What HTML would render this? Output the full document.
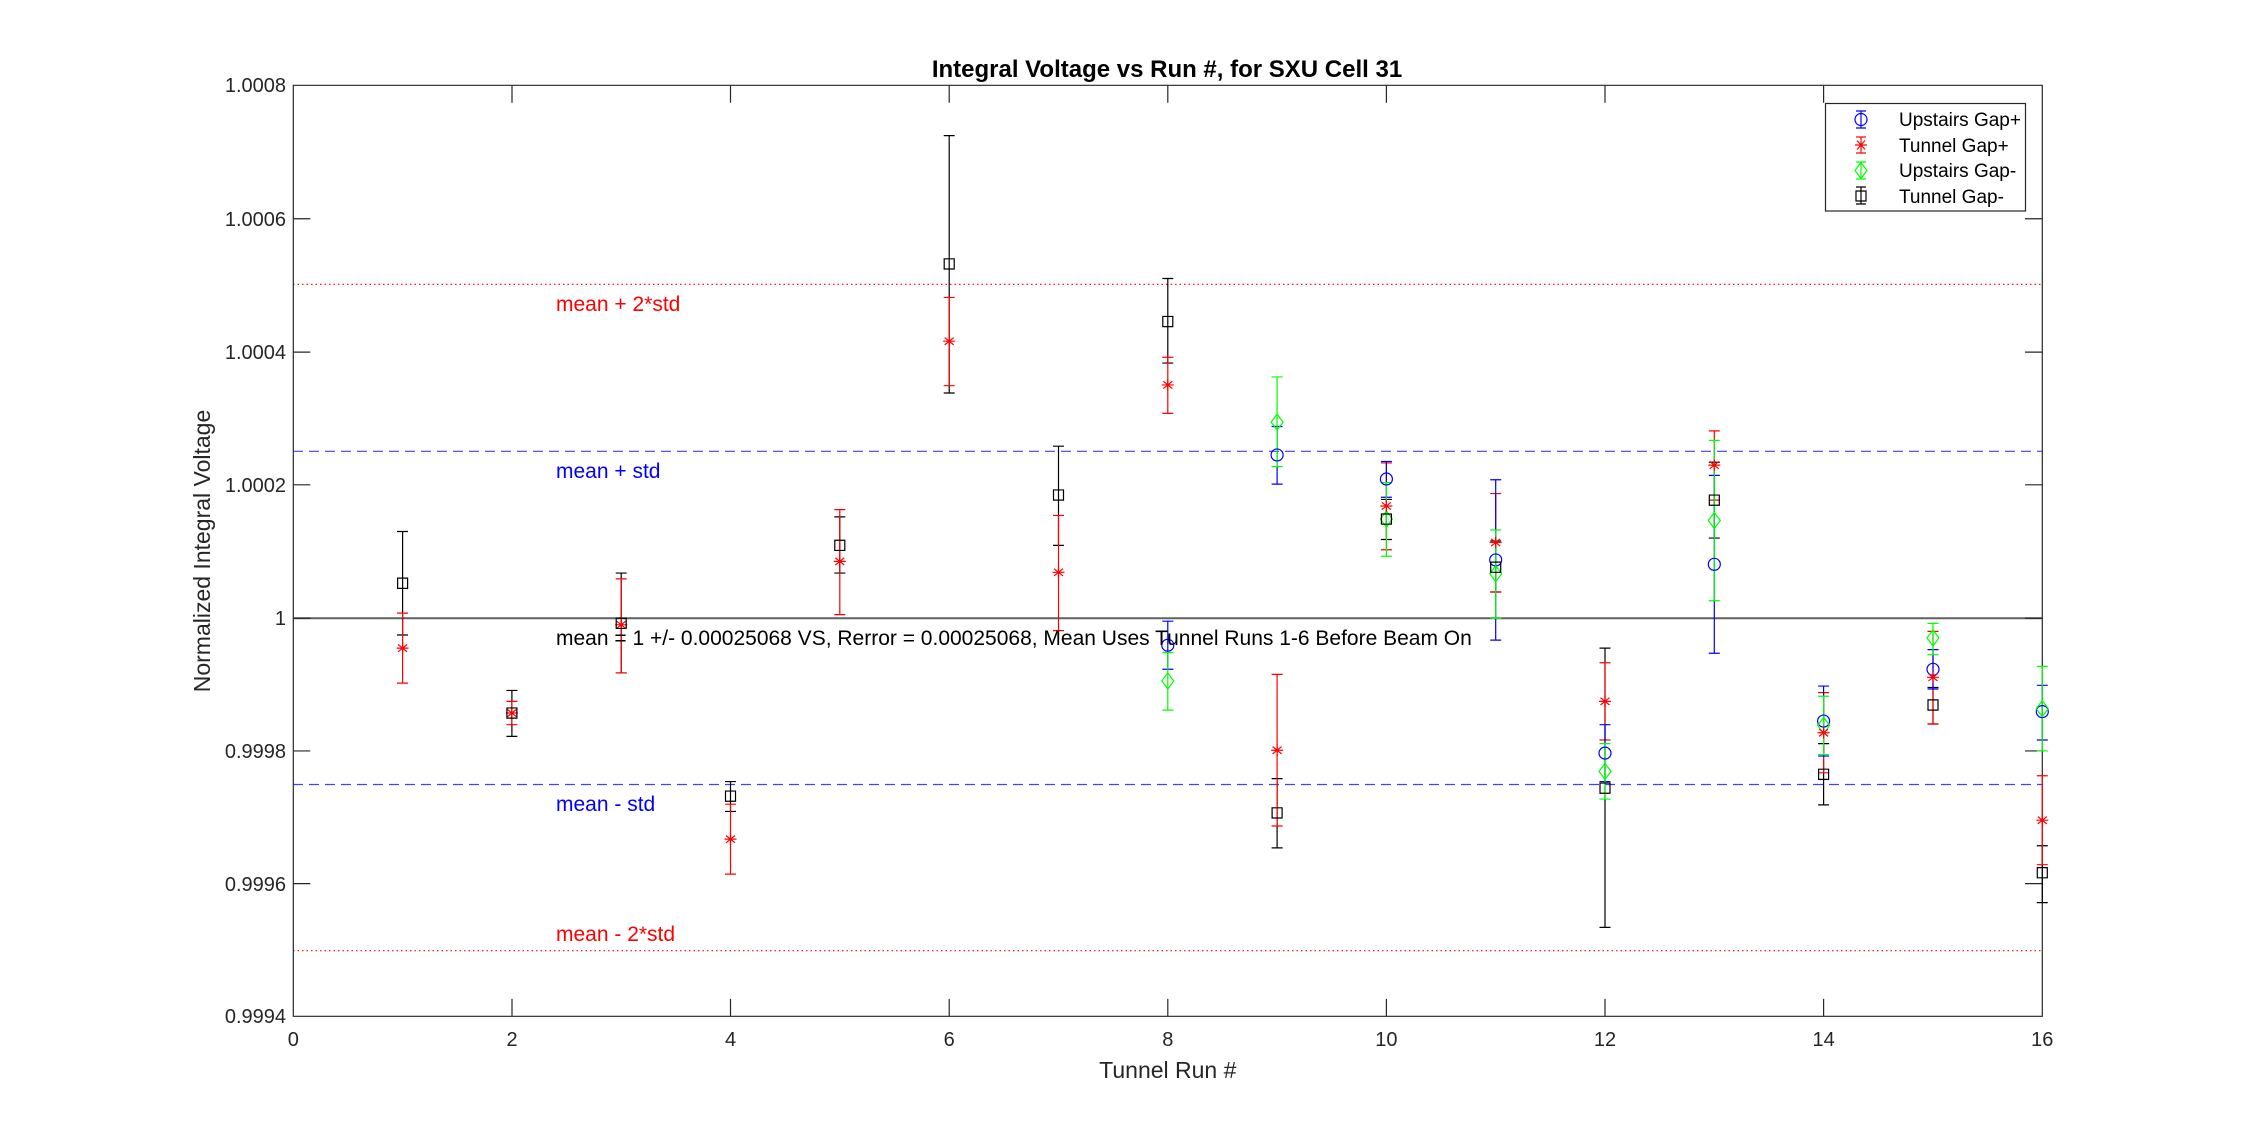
<!DOCTYPE html>
<html><head><meta charset="utf-8"><style>
html,body{margin:0;padding:0;background:#fff;}
svg{display:block;font-family:"Liberation Sans",Arial,sans-serif;}
</style></head><body>
<svg width="2258" height="1143" viewBox="0 0 2258 1143" xmlns="http://www.w3.org/2000/svg">
<rect width="2258" height="1143" fill="#fff"/>
<text x="1167" y="77" font-size="24" font-weight="bold" text-anchor="middle">Integral Voltage vs Run #, for SXU Cell 31</text>
<g transform="scale(1,0.72907)" fill="none" stroke-width="1.2">
<path d="M293 390 H2042" stroke="#ff0000" stroke-dasharray="1.5,3" vector-effect="non-scaling-stroke"/>
<path d="M293 619 H2042" stroke="#4040ff" stroke-dasharray="10,6" vector-effect="non-scaling-stroke"/>
<path d="M293 848 H2042" stroke="#606060" stroke-width="2" vector-effect="non-scaling-stroke"/>
<path d="M293 1076 H2042" stroke="#4040ff" stroke-dasharray="10,6" vector-effect="non-scaling-stroke"/>
<path d="M293 1304 H2042" stroke="#ff0000" stroke-dasharray="1.5,3" vector-effect="non-scaling-stroke"/>
<g stroke="#262626" vector-effect="non-scaling-stroke">
<rect x="293.3" y="117" width="1749" height="1277" vector-effect="non-scaling-stroke"/>
<path vector-effect="non-scaling-stroke" d="M512 1394 v-24 M730.5 1394 v-24 M949.2 1394 v-24 M1167.8 1394 v-24 M1386.4 1394 v-24 M1605 1394 v-24 M1823.6 1394 v-24
M512 117 v24 M730.5 117 v24 M949.2 117 v24 M1167.8 117 v24 M1386.4 117 v24 M1605 117 v24 M1823.6 117 v24
M293.3 300 h17 M293.3 483 h17 M293.3 665 h17 M293.3 848 h17 M293.3 1030 h17 M293.3 1212 h17
M2042 300 h-17 M2042 483 h-17 M2042 665 h-17 M2042 848 h-17 M2042 1030 h-17 M2042 1212 h-17"/>
</g>
<g stroke="#000">
<path vector-effect="non-scaling-stroke" d="
M397 729H408M402.6 729V871M397 871H408
M506.4 947H517.4M511.9 947V1010M506.4 1010H517.4
M615.7 786H626.7M621.2 786V923M615.7 923H626.7
M725 1072H736M730.5 1072V1113M725 1113H736
M834.3 709H845.3M839.8 709V786M834.3 786H845.3
M943.7 186H954.7M949.2 186V539M943.7 539H954.7
M1053 612H1064M1058.5 612V748M1053 748H1064
M1162.3 382H1173.3M1167.8 382V498M1162.3 498H1173.3
M1271.6 1068H1282.6M1277.1 1068V1163M1271.6 1163H1282.6
M1380.9 685H1391.9M1386.4 685V740M1380.9 740H1391.9
M1490.2 742H1501.2M1495.7 742V812M1490.2 812H1501.2
M1599.5 889H1610.5M1605 889V1272M1599.5 1272H1610.5
M1708.8 634H1719.8M1714.3 634V738M1708.8 738H1719.8
M1818.1 1020H1829.1M1823.6 1020V1104M1818.1 1104H1829.1
M1927.5 943H1938.5M1933 943V993M1927.5 993H1938.5
M2036.8 1160H2047.8M2042.3 1160V1238M2036.8 1238H2047.8"/>
</g>
<g stroke="#ff0000">
<path vector-effect="non-scaling-stroke" d="
M397 841H408M402.6 841V937M397 937H408
M506.4 962H517.4M511.9 962V994M506.4 994H517.4
M615.7 794H626.7M621.2 794V923M615.7 923H626.7
M725 1103H736M730.5 1103V1199M725 1199H736
M834.3 699H845.3M839.8 699V843M834.3 843H845.3
M943.7 408H954.7M949.2 408V529M943.7 529H954.7
M1053 707H1064M1058.5 707V865M1053 865H1064
M1162.3 490H1173.3M1167.8 490V567M1162.3 567H1173.3
M1271.6 925H1282.6M1277.1 925V1133M1271.6 1133H1282.6
M1380.9 635H1391.9M1386.4 635V754M1380.9 754H1391.9
M1490.2 677H1501.2M1495.7 677V812M1490.2 812H1501.2
M1599.5 909H1610.5M1605 909V1015M1599.5 1015H1610.5
M1708.8 591H1719.8M1714.3 591V686M1708.8 686H1719.8
M1818.1 950H1829.1M1823.6 950V1060M1818.1 1060H1829.1
M1927.5 866H1938.5M1933 866V993M1927.5 993H1938.5
M2036.8 1064H2047.8M2042.3 1064V1186M2036.8 1186H2047.8"/>
</g>
<g stroke="#0000ff">
<path vector-effect="non-scaling-stroke" d="
M1162.3 852H1173.3M1167.8 852V918M1162.3 918H1173.3
M1271.6 585H1282.6M1277.1 585V664M1271.6 664H1282.6
M1380.9 633H1391.9M1386.4 633V682M1380.9 682H1391.9
M1490.2 658H1501.2M1495.7 658V878M1490.2 878H1501.2
M1599.5 994H1610.5M1605 994V1072M1599.5 1072H1610.5
M1708.8 652H1719.8M1714.3 652V896M1708.8 896H1719.8
M1818.1 941H1829.1M1823.6 941V1037M1818.1 1037H1829.1
M1927.5 891H1938.5M1933 891V945M1927.5 945H1938.5
M2036.8 940H2047.8M2042.3 940V1015M2036.8 1015H2047.8"/>
</g>
<g stroke="#00ff00">
<path vector-effect="non-scaling-stroke" d="
M1162.3 895H1173.3M1167.8 895V974M1162.3 974H1173.3
M1271.6 517H1282.6M1277.1 517V640M1271.6 640H1282.6
M1380.9 662H1391.9M1386.4 662V763M1380.9 763H1391.9
M1490.2 727H1501.2M1495.7 727V848M1490.2 848H1501.2
M1599.5 1020H1610.5M1605 1020V1096M1599.5 1096H1610.5
M1708.8 604H1719.8M1714.3 604V824M1708.8 824H1719.8
M1818.1 955H1829.1M1823.6 955V1035M1818.1 1035H1829.1
M1927.5 855H1938.5M1933 855V898M1927.5 898H1938.5
M2036.8 914H2047.8M2042.3 914V1030M2036.8 1030H2047.8"/>
</g>
<g stroke="#0000ff">
<ellipse vector-effect="non-scaling-stroke" cx="1167.8" cy="885" rx="6" ry="8.2"/>
<ellipse vector-effect="non-scaling-stroke" cx="1277.1" cy="624" rx="6" ry="8.2"/>
<ellipse vector-effect="non-scaling-stroke" cx="1386.4" cy="657" rx="6" ry="8.2"/>
<ellipse vector-effect="non-scaling-stroke" cx="1495.7" cy="768" rx="6" ry="8.2"/>
<ellipse vector-effect="non-scaling-stroke" cx="1605" cy="1033" rx="6" ry="8.2"/>
<ellipse vector-effect="non-scaling-stroke" cx="1714.3" cy="774" rx="6" ry="8.2"/>
<ellipse vector-effect="non-scaling-stroke" cx="1823.6" cy="989" rx="6" ry="8.2"/>
<ellipse vector-effect="non-scaling-stroke" cx="1933" cy="918" rx="6" ry="8.2"/>
<ellipse vector-effect="non-scaling-stroke" cx="2042.3" cy="976" rx="6" ry="8.2"/>
</g>
<g stroke="#00ff00">
<path vector-effect="non-scaling-stroke" d="
M1167.8 923l6 11l-6 11l-6 -11z
M1277.1 568l6 11l-6 11l-6 -11z
M1386.4 701l6 11l-6 11l-6 -11z
M1495.7 776l6 11l-6 11l-6 -11z
M1605 1047l6 11l-6 11l-6 -11z
M1714.3 703l6 11l-6 11l-6 -11z
M1823.6 984l6 11l-6 11l-6 -11z
M1933 864l6 11l-6 11l-6 -11z
M2042.3 961l6 11l-6 11l-6 -11z"/>
</g>
<g stroke="#ff0000">
<path vector-effect="non-scaling-stroke" d="
M396.6 889h12m-6 -8v16m-4.5 -13l9 10m0 -10l-9 10
M505.9 978h12m-6 -8v16m-4.5 -13l9 10m0 -10l-9 10
M615.2 857h12m-6 -8v16m-4.5 -13l9 10m0 -10l-9 10
M724.5 1151h12m-6 -8v16m-4.5 -13l9 10m0 -10l-9 10
M833.8 770h12m-6 -8v16m-4.5 -13l9 10m0 -10l-9 10
M943.2 468h12m-6 -8v16m-4.5 -13l9 10m0 -10l-9 10
M1052.5 785h12m-6 -8v16m-4.5 -13l9 10m0 -10l-9 10
M1161.8 528h12m-6 -8v16m-4.5 -13l9 10m0 -10l-9 10
M1271.1 1029h12m-6 -8v16m-4.5 -13l9 10m0 -10l-9 10
M1380.4 694h12m-6 -8v16m-4.5 -13l9 10m0 -10l-9 10
M1489.7 744h12m-6 -8v16m-4.5 -13l9 10m0 -10l-9 10
M1599 962h12m-6 -8v16m-4.5 -13l9 10m0 -10l-9 10
M1708.3 638h12m-6 -8v16m-4.5 -13l9 10m0 -10l-9 10
M1817.6 1005h12m-6 -8v16m-4.5 -13l9 10m0 -10l-9 10
M1927 929h12m-6 -8v16m-4.5 -13l9 10m0 -10l-9 10
M2036.3 1125h12m-6 -8v16m-4.5 -13l9 10m0 -10l-9 10"/>
</g>
<g stroke="#000">
<path vector-effect="non-scaling-stroke" d="
M397.6 793h10v14h-10z
M506.9 971h10v14h-10z
M616.2 848h10v14h-10z
M725.5 1085h10v14h-10z
M834.8 741h10v14h-10z
M944.2 355h10v14h-10z
M1053.5 672h10v14h-10z
M1162.8 434h10v14h-10z
M1272.1 1108h10v14h-10z
M1381.4 705h10v14h-10z
M1490.7 771h10v14h-10z
M1600 1074h10v14h-10z
M1709.3 679h10v14h-10z
M1818.6 1055h10v14h-10z
M1928 960h10v14h-10z
M2037.3 1190h10v14h-10z"/>
</g>
</g>
<g font-size="20" fill="#262626">
<g text-anchor="end">
<text x="286" y="92">1.0008</text>
<text x="286" y="226">1.0006</text>
<text x="286" y="359">1.0004</text>
<text x="286" y="492">1.0002</text>
<text x="286" y="625">1</text>
<text x="286" y="758">0.9998</text>
<text x="286" y="891">0.9996</text>
<text x="286" y="1023">0.9994</text>
</g>
<g text-anchor="middle">
<text x="293.3" y="1046">0</text>
<text x="512" y="1046">2</text>
<text x="730.5" y="1046">4</text>
<text x="949.2" y="1046">6</text>
<text x="1167.8" y="1046">8</text>
<text x="1386.4" y="1046">10</text>
<text x="1605" y="1046">12</text>
<text x="1823.6" y="1046">14</text>
<text x="2042.3" y="1046">16</text>
<text x="1167.8" y="1078" font-size="23">Tunnel Run #</text>
</g>
<text transform="translate(210,551) rotate(-90)" text-anchor="middle" font-size="23">Normalized Integral Voltage</text>
</g>
<g font-size="21">
<text x="556" y="311" fill="#ff0000">mean + 2*std</text>
<text x="556" y="478" fill="#0000ff">mean + std</text>
<text x="556" y="645" fill="#000">mean = 1 +/- 0.00025068 VS, Rerror = 0.00025068, Mean Uses Tunnel Runs 1-6 Before Beam On</text>
<text x="556" y="811" fill="#0000ff">mean - std</text>
<text x="556" y="941" fill="#ff0000">mean - 2*std</text>
</g>
<rect x="1825.5" y="103.5" width="200" height="107.5" fill="#fff" stroke="#262626" stroke-width="1.2"/>
<g font-size="19" fill="#000">
<text x="1899" y="126">Upstairs Gap+</text>
<text x="1899" y="152">Tunnel Gap+</text>
<text x="1899" y="177">Upstairs Gap-</text>
<text x="1899" y="203">Tunnel Gap-</text>
</g>
<g fill="none" stroke-width="1.2">
<path d="M1856 111h10M1861 111v17M1856 128h10" stroke="#0000ff"/>
<circle cx="1861" cy="119.5" r="6" stroke="#0000ff"/>
<path d="M1856 137h10M1861 137v16M1856 153h10M1855 145h12M1857 140.5l8 9M1865 140.5l-8 9" stroke="#ff0000"/>
<path d="M1856 162h10M1861 162v17M1856 179h10M1861 162.5l6 8l-6 8l-6 -8z" stroke="#00ff00"/>
<path d="M1856 187h10M1861 187v17M1856 204h10M1856 191h10v10h-10z" stroke="#000"/>
</g>
</svg>
</body></html>
